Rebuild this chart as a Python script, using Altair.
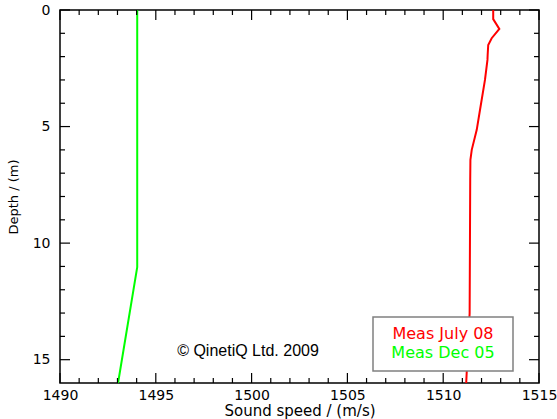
import altair as alt
import pandas as pd

# ---- data ----
july_depth = [0.0, 0.39, 0.81, 1.21, 1.50, 1.93, 2.14, 3.00, 4.29, 5.14, 6.00, 6.43, 7.29, 13.0, 16.0]
july_speed = [1512.61, 1512.61, 1512.93, 1512.53, 1512.35, 1512.32, 1512.31, 1512.18, 1511.92,
              1511.75, 1511.49, 1511.42, 1511.41, 1511.38, 1511.20]
dec_depth = [0.0, 11.03, 16.0]
dec_speed = [1494.03, 1494.03, 1493.03]

series_names = ["Meas July 08", "Meas Dec 05"]
series_colors = ["#ff0000", "#00ff00"]

x_major = [1490, 1495, 1500, 1505, 1510, 1515]
x_minor = [v for v in range(1490, 1516) if v % 5 != 0]
y_major = [0, 5, 10, 15]
y_minor = [v for v in range(0, 16) if v % 5 != 0]

copyright_text = ["© QinetiQ Ltd. 2009"]

W, H = 479, 373
X0, X1 = 1490, 1515
Y0, Y1 = 0, 16

lines = pd.DataFrame(
    {"depth": july_depth + dec_depth,
     "speed": july_speed + dec_speed,
     "series": [series_names[0]] * len(july_depth) + [series_names[1]] * len(dec_depth)}
)

xscale = alt.Scale(domain=[X0, X1], nice=False, zero=False)
yscale = alt.Scale(domain=[Y0, Y1], nice=False, zero=False, reverse=True)
cscale = alt.Scale(domain=series_names, range=series_colors)

FONT = "DejaVu Sans"

x_axis = alt.Axis(title="Sound speed / (m/s)", orient="bottom", values=x_major, format="d",
                  ticks=False, grid=False, domain=False, labelFont=FONT, labelFontSize=14,
                  labelColor="black", labelPadding=5, titleFont=FONT, titleFontSize=15,
                  titleFontWeight="normal", titleColor="black", titlePadding=1,
                  labelFlush=False)
y_axis = alt.Axis(title="Depth / (m)", orient="left", values=y_major, format="d",
                  ticks=False, grid=False, domain=False, labelFont=FONT, labelFontSize=14,
                  labelColor="black", labelPadding=10, titleFont=FONT, titleFontSize=13,
                  titleFontWeight="normal", titleColor="black", titlePadding=12,
                  labelFlush=False)

line_layer = alt.Chart(lines).mark_line(strokeWidth=2).encode(
    x=alt.X("speed:Q", scale=xscale, axis=x_axis),
    y=alt.Y("depth:Q", scale=yscale, axis=y_axis),
    color=alt.Color("series:N", scale=cscale, legend=None),
    order=alt.Order("depth:Q"),
)

# inward ticks on all four sides, drawn as thin rectangles
# (tick lengths and widths converted from pixels to data units)
px_x = (X1 - X0) / W
px_y = (Y1 - Y0) / H
hw_x = 0.6 * px_x
hw_y = 0.6 * px_y
rows = []
for vals, L in ((x_major, 10), (x_minor, 5)):
    for v in vals:
        rows.append({"s1": v - hw_x, "s2": v + hw_x, "d1": Y1, "d2": Y1 - L * px_y})
        rows.append({"s1": v - hw_x, "s2": v + hw_x, "d1": Y0 + L * px_y, "d2": Y0})
for vals, L in ((y_major, 10), (y_minor, 5)):
    for v in vals:
        rows.append({"s1": X0 + L * px_x, "s2": X0, "d1": v - hw_y, "d2": v + hw_y})
        rows.append({"s1": X1 - L * px_x, "s2": X1, "d1": v - hw_y, "d2": v + hw_y})
ticks_df = pd.DataFrame(rows)

tick_layer = alt.Chart(ticks_df).mark_rect(color="black", strokeWidth=0).encode(
    x=alt.X("s1:Q", scale=xscale, axis=x_axis),
    x2="s2:Q",
    y=alt.Y("d1:Q", scale=yscale, axis=y_axis),
    y2="d2:Q",
)

legend_box = alt.Chart(pd.DataFrame({"a": [0]})).mark_rect(
    fill="white", stroke="#808080", strokeWidth=1.5).encode(
    x=alt.value(313), x2=alt.value(453), y=alt.value(307), y2=alt.value(361))


def legend_entry(i, ypix):
    return alt.Chart(pd.DataFrame({"series": [series_names[i]]})).mark_text(
        font=FONT, fontSize=16, align="center", baseline="middle",
        color=series_colors[i]).encode(
        x=alt.value(383), y=alt.value(ypix), text="series:N")


copy_layer = alt.Chart(pd.DataFrame({"t": copyright_text})).mark_text(
    font="Liberation Sans", fontSize=16, align="center", baseline="middle", color="black").encode(
    x=alt.value(188), y=alt.value(341), text="t:N")

chart = alt.layer(line_layer, tick_layer, legend_box,
                  legend_entry(0, 324), legend_entry(1, 343), copy_layer).properties(
    width=W, height=H,
    padding={"left": 60, "top": 10, "right": 18, "bottom": 36},
    autosize=alt.AutoSizeParams(type="none"),
    background="white",
).configure_view(stroke="black", strokeWidth=1.5)

chart.save("out.html", embed_options={"renderer": "svg", "actions": False})
